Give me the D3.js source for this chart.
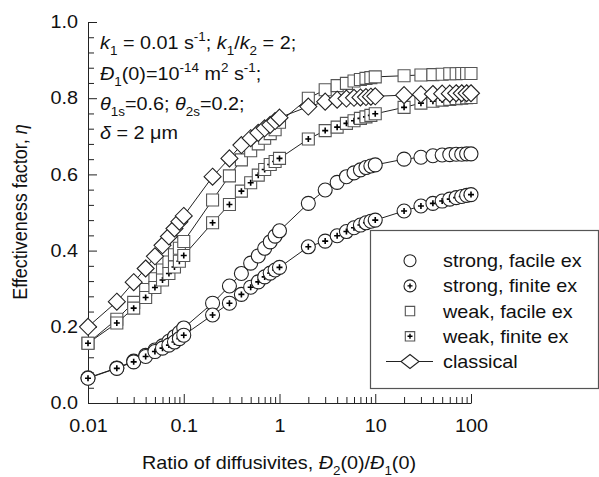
<!DOCTYPE html>
<html>
<head>
<meta charset="utf-8">
<script src="https://cdn.jsdelivr.net/npm/d3@7"></script>
<style>
body { margin: 0; background: #fff; }
svg { font-family: "Liberation Sans", Arial, Helvetica, sans-serif; }
</style>
</head>
<body>
<div id="chart"></div>
<script>
// x values (ratio of diffusivities)
var xVals = [0.01, 0.02, 0.03, 0.04, 0.05, 0.06, 0.07, 0.08, 0.09,
	0.1, 0.2, 0.3, 0.4, 0.5, 0.6, 0.7, 0.8, 0.9,
	1, 2, 3, 4, 5, 6, 7, 8, 9,
	10, 20, 30, 40, 50, 60, 70, 80, 90, 100];

var strongFacile = [0.066, 0.092, 0.110, 0.125, 0.139, 0.150, 0.162, 0.174, 0.185,
	0.197, 0.262, 0.307, 0.340, 0.367, 0.386, 0.406, 0.423, 0.438,
	0.452, 0.524, 0.559, 0.579, 0.594, 0.604, 0.612, 0.618, 0.622,
	0.625, 0.640, 0.645, 0.649, 0.651, 0.652, 0.653, 0.653, 0.654, 0.654];

var strongFinite = [0.065, 0.091, 0.108, 0.122, 0.135, 0.144, 0.152, 0.160, 0.169,
	0.178, 0.231, 0.262, 0.285, 0.304, 0.318, 0.331, 0.341, 0.349,
	0.356, 0.410, 0.425, 0.439, 0.450, 0.460, 0.467, 0.473, 0.477,
	0.480, 0.504, 0.517, 0.524, 0.530, 0.535, 0.539, 0.542, 0.545, 0.547];

var weakFacile = [0.157, 0.220, 0.264, 0.298, 0.326, 0.349, 0.370, 0.389, 0.406,
	0.424, 0.533, 0.596, 0.638, 0.662, 0.680, 0.695, 0.707, 0.717,
	0.737, 0.800, 0.822, 0.833, 0.839, 0.845, 0.849, 0.852, 0.854,
	0.856, 0.859, 0.861, 0.862, 0.863, 0.864, 0.864, 0.865, 0.865, 0.865];

var weakFinite = [0.157, 0.210, 0.249, 0.277, 0.303, 0.323, 0.340, 0.357, 0.372,
	0.387, 0.473, 0.521, 0.556, 0.578, 0.598, 0.613, 0.626, 0.634,
	0.642, 0.693, 0.715, 0.724, 0.734, 0.741, 0.747, 0.751, 0.755,
	0.759, 0.776, 0.787, 0.792, 0.795, 0.797, 0.799, 0.800, 0.801, 0.802];

var classical = [0.200, 0.266, 0.317, 0.353, 0.385, 0.414, 0.437, 0.458, 0.476,
	0.491, 0.594, 0.642, 0.677, 0.695, 0.709, 0.721, 0.730, 0.740,
	0.749, 0.778, 0.791, 0.796, 0.799, 0.801, 0.802, 0.803, 0.804,
	0.805, 0.808, 0.810, 0.811, 0.812, 0.812, 0.813, 0.813, 0.813, 0.813];

var xTickVals = [0.01, 0.1, 1, 10, 100];
var xTickLabels = ['0.01', '0.1', '1', '10', '100'];
var yTickVals = [0, 0.2, 0.4, 0.6, 0.8, 1.0];
var yTickLabels = ['0.0', '0.2', '0.4', '0.6', '0.8', '1.0'];
var legendNames = ['strong, facile ex', 'strong, finite ex', 'weak, facile ex', 'weak, finite ex', 'classical'];

var W = 599, H = 477;
var SX = 1.1; // text in the figure is a bit wide
var plot = { left: 88, right: 471, top: 22, bottom: 403 };

var svg = d3.select('#chart').append('svg')
	.attr('width', W)
	.attr('height', H);

var x = d3.scaleLog().domain([0.01, 100]).range([plot.left, plot.right]);
var y = d3.scaleLinear().domain([0, 1]).range([plot.bottom, plot.top]);

// minor ticks
var xMinor = [];
[0.01, 0.1, 1, 10].forEach(function (d) {
	for (let k = 2; k <= 9; ++k) xMinor.push(d * k);
});
var yMinor = d3.range(0, 1.0001, 0.04).filter(function (v) {
	return Math.abs(v * 5 - Math.round(v * 5)) > 1e-6;
});

svg.append('g')
	.attr('transform', 'translate(0,' + plot.bottom + ')')
	.call(d3.axisBottom(x).tickValues(xMinor).tickSize(-6).tickSizeOuter(0).tickFormat(''))
	.call(g => g.select('.domain').remove());
svg.append('g')
	.attr('transform', 'translate(' + plot.left + ',0)')
	.call(d3.axisLeft(y).tickValues(yMinor).tickSize(-6).tickSizeOuter(0).tickFormat(''))
	.call(g => g.select('.domain').remove());

var xAxis = svg.append('g')
	.attr('transform', 'translate(0,' + plot.bottom + ')')
	.call(d3.axisBottom(x).tickValues(xTickVals).tickSize(-9).tickSizeOuter(0).tickPadding(16)
		.tickFormat(function (d, i) { return xTickLabels[i]; }));
var yAxis = svg.append('g')
	.attr('transform', 'translate(' + plot.left + ',0)')
	.call(d3.axisLeft(y).tickValues(yTickVals).tickSize(-9).tickSizeOuter(0).tickPadding(9)
		.tickFormat(function (d, i) { return yTickLabels[i]; }));

[xAxis, yAxis].forEach(function (g) {
	g.selectAll('text').style('font-size', '18px').attr('fill', '#111').style('font-family', 'inherit');
	g.select('.domain').attr('stroke', '#222');
});
xAxis.selectAll('text').attr('transform', 'scale(' + SX + ',1)');
yAxis.selectAll('text').attr('transform', 'scale(' + SX + ',1)').attr('x', -10 / SX);
svg.selectAll('.tick line').attr('stroke', '#222');

// rich text with italic / sub / sup pieces
function richText(parent, px, py, parts, size, rot) {
	let t = parent.append('text')
		.attr('transform', 'translate(' + px + ',' + py + ')' + (rot ? ' rotate(' + rot + ') scale(1,' + SX + ')' : ' scale(' + SX + ',1)'))
		.style('font-size', size + 'px')
		.attr('fill', '#111');
	if (rot) t.attr('text-anchor', 'middle');
	let shift = 0;
	parts.forEach(function (p) {
		let s = t.append('tspan').text(p.t);
		let target = p.sub ? size * 0.32 : (p.sup ? -size * 0.42 : 0);
		s.attr('dy', target - shift);
		shift = target;
		if (p.sub || p.sup) s.style('font-size', (size * 0.68) + 'px');
		if (p.i) s.style('font-style', 'italic');
	});
	return t;
}

// axis titles
richText(svg, 279, 469, [
	{ t: 'Ratio of diffusivites, ' }, { t: 'Đ', i: 1 }, { t: '2', sub: 1 }, { t: '(0)/' },
	{ t: 'Đ', i: 1 }, { t: '1', sub: 1 }, { t: '(0)' }
], 18).attr('text-anchor', 'middle');
richText(svg, 27, 212, [{ t: 'Effectiveness factor, ' }, { t: 'η', i: 1 }], 18, -90);

// parameter block
richText(svg, 100, 49, [
	{ t: 'k', i: 1 }, { t: '1', sub: 1 }, { t: ' = 0.01 s' }, { t: '-1', sup: 1 }, { t: '; ' },
	{ t: 'k', i: 1 }, { t: '1', sub: 1 }, { t: '/' }, { t: 'k', i: 1 }, { t: '2', sub: 1 }, { t: ' = 2;' }
], 18);
richText(svg, 100, 80, [
	{ t: 'Đ', i: 1 }, { t: '1', sub: 1 }, { t: '(0)=10' }, { t: '-14', sup: 1 }, { t: ' m' },
	{ t: '2', sup: 1 }, { t: ' s' }, { t: '-1', sup: 1 }, { t: ';' }
], 18);
richText(svg, 100, 110, [
	{ t: 'θ', i: 1 }, { t: '1s', sub: 1 }, { t: '=0.6; ' }, { t: 'θ', i: 1 }, { t: '2s', sub: 1 }, { t: '=0.2;' }
], 18);
richText(svg, 100, 139, [{ t: 'δ', i: 1 }, { t: ' = 2 μm' }], 18);

// marker shapes
function markerPath(kind, r, ry) {
	if (kind === 'diamond') {
		ry = ry || r;
		return 'M0,' + (-ry) + 'L' + r + ',0L0,' + ry + 'L' + (-r) + ',0Z';
	}
	if (kind === 'square') return 'M' + (-r) + ',' + (-r) + 'h' + (2 * r) + 'v' + (2 * r) + 'h' + (-2 * r) + 'Z';
	return 'M' + r + ',0A' + r + ',' + r + ' 0 1,1 ' + (-r) + ',0A' + r + ',' + r + ' 0 1,1 ' + r + ',0Z';
}
var plusPath = 'M-3,0H3M0,-3V3';

var series = [
	{ name: legendNames[0], vals: strongFacile, kind: 'circle', plus: false, r: 7, stroke: '#222' },
	{ name: legendNames[1], vals: strongFinite, kind: 'circle', plus: true, r: 7, stroke: '#222' },
	{ name: legendNames[2], vals: weakFacile, kind: 'square', plus: false, r: 6, stroke: '#555' },
	{ name: legendNames[3], vals: weakFinite, kind: 'square', plus: true, r: 6, stroke: '#555' },
	{ name: legendNames[4], vals: classical, kind: 'diamond', plus: false, r: 8.5, stroke: '#222' }
];

var line = d3.line()
	.x(function (d) { return x(d[0]); })
	.y(function (d) { return y(d[1]); });

series.forEach(function (s) {
	let pts = xVals.map(function (xv, i) { return [xv, s.vals[i]]; });
	let g = svg.append('g');
	g.append('path')
		.attr('d', line(pts))
		.attr('fill', 'none')
		.attr('stroke', '#222')
		.attr('stroke-width', 1);
	let m = g.selectAll('.mk').data(pts).enter().append('g')
		.attr('transform', function (d) { return 'translate(' + x(d[0]) + ',' + y(d[1]) + ')'; });
	m.append('path')
		.attr('d', markerPath(s.kind, s.r))
		.attr('fill', '#fff')
		.attr('stroke', s.stroke)
		.attr('stroke-width', 1.1);
	if (s.plus) {
		m.append('path').attr('d', plusPath).attr('stroke', '#000').attr('stroke-width', 1.6);
	}
});

// legend
var leg = svg.append('g');
leg.append('rect')
	.attr('x', 370.5).attr('y', 230.5)
	.attr('width', 228).attr('height', 158)
	.attr('fill', '#fff')
	.attr('stroke', '#555')
	.attr('stroke-width', 1.2);
var legSizes = [6, 6, 4.7, 4.7, 9];
series.forEach(function (s, i) {
	let cy = 260.7 + i * 25.2;
	let g = leg.append('g').attr('transform', 'translate(410,' + cy + ')');
	if (s.kind === 'diamond') {
		g.append('line').attr('x1', -24).attr('x2', 23).attr('stroke', '#222');
	}
	g.append('path')
		.attr('d', markerPath(s.kind, legSizes[i], s.kind === 'diamond' ? 7 : null))
		.attr('fill', '#fff')
		.attr('stroke', s.stroke)
		.attr('stroke-width', 1.1);
	if (s.plus) g.append('path').attr('d', 'M-2.5,0H2.5M0,-2.5V2.5').attr('stroke', '#000').attr('stroke-width', 1.4);
	richText(leg, 443, cy + 6.5, [{ t: s.name }], 18);
});
</script>
</body>
</html>
